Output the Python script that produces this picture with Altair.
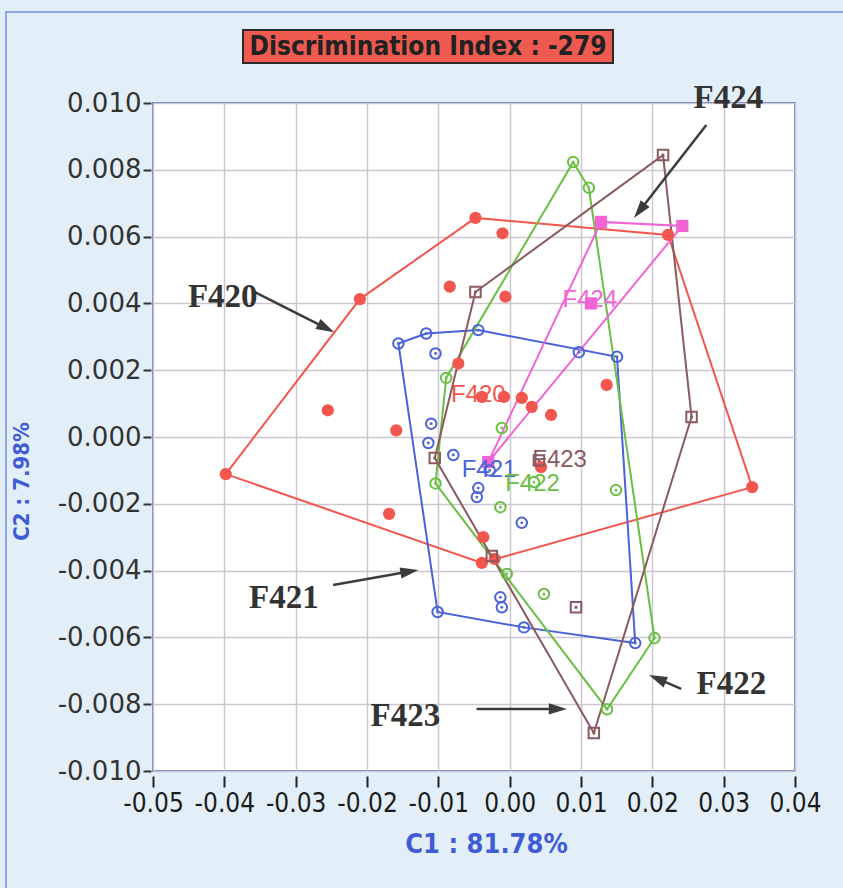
import math
import altair as alt
import pandas as pd

# ---------------- data ----------------
groups = ["F420", "F421", "F422", "F423", "F424"]
colors = ["#f2564e", "#4a63d8", "#6abf44", "#8a5a5e", "#f064d4"]

f420_x = [-0.0398, -0.0210, -0.0048, 0.0222, 0.0340, -0.0039, -0.0021, -0.0084, -0.0010, -0.0006,
          -0.0072, -0.0255, -0.0159, -0.0169, -0.0037, -0.0008, 0.0017, 0.0031, 0.0058, 0.0136,
          0.0044, -0.0039]
f420_y = [-0.00111, 0.00413, 0.00656, 0.00605, -0.00150, -0.00377, -0.00365, 0.00450, 0.00610, 0.00420,
          0.00220, 0.00080, 0.00020, -0.00230, -0.00300, 0.00120, 0.00117, 0.00090, 0.00066, 0.00156,
          -0.00090, 0.00120]

f421_x = [-0.0156, -0.0117, -0.0044, 0.0097, 0.01505, 0.0176, 0.0020, -0.0101, -0.0104, -0.0110,
          -0.0114, -0.0079, -0.0044, -0.0046, 0.0017, -0.0013, -0.0011, -0.0028]
f421_y = [0.00280, 0.00310, 0.00320, 0.00254, 0.00240, -0.00617, -0.00570, -0.00524, 0.00250, 0.00040,
          -0.00018, -0.00054, -0.00153, -0.00180, -0.00257, -0.00480, -0.00510, -0.00100]

f422_x = [0.0089, 0.0111, 0.0203, 0.01365, -0.0104, -0.0089, -0.0011, 0.0149, -0.0013, -0.0004,
          0.0048, 0.0034]
f422_y = [0.00823, 0.00746, -0.00602, -0.00815, -0.00139, 0.00177, 0.00027, -0.00159, -0.00210, -0.00410,
          -0.00470, -0.00135]

f423_x = [-0.0048, 0.0215, 0.0255, 0.0118, -0.0105, 0.0093, -0.0025, 0.0041]
f423_y = [0.00434, 0.00844, 0.00060, -0.00886, -0.00063, -0.00510, -0.00356, -0.00070]

f424_x = [-0.0030, 0.0128, 0.0242, 0.0114]
f424_y = [-0.00075, 0.00644, 0.00632, 0.00400]

# group labels (drawn at the group centres, as in the reference)
label_x = [-0.0044, -0.0029, 0.0032, 0.0070, 0.01125]
label_y = [0.00126, -0.00099, -0.00141, -0.00069, 0.00410]

# annotation call-outs
ann_text = ["F424", "F420", "F421", "F422", "F423"]
ann_tx = [0.03066, -0.04022, -0.03165, 0.03108, -0.01463]
ann_ty = [0.01015, 0.00419, -0.00482, -0.00740, -0.00835]
arr_x0 = [0.02757, -0.03572, -0.02475, 0.02405, -0.00464]
arr_y0 = [0.00934, 0.00434, -0.00443, -0.00754, -0.00814]
arr_x1 = [0.01744, -0.02461, -0.01280, 0.01955, 0.00802]
arr_y1 = [0.00656, 0.00314, -0.00398, -0.00713, -0.00814]

x_ticks = [-0.05, -0.04, -0.03, -0.02, -0.01, 0.00, 0.01, 0.02, 0.03, 0.04]
y_ticks = [-0.010, -0.008, -0.006, -0.004, -0.002, 0.000, 0.002, 0.004, 0.006, 0.008, 0.010]

title_text = "Discrimination Index : -279"
x_title = "C1 : 81.78%"
y_title = "C2 : 7.98%"

# ---------------- build tables ----------------
xs = [f420_x, f421_x, f422_x, f423_x, f424_x]
ys = [f420_y, f421_y, f422_y, f423_y, f424_y]

pts = []
for g, gx, gy in zip(groups, xs, ys):
    for a, b in zip(gx, gy):
        pts.append({"group": g, "x": a, "y": b})
pts = pd.DataFrame(pts)


def hull(points):
    p = sorted(set(points))
    if len(p) <= 2:
        return p

    def cross(o, a, b):
        return (a[0] - o[0]) * (b[1] - o[1]) - (a[1] - o[1]) * (b[0] - o[0])

    lower, upper = [], []
    for q in p:
        while len(lower) >= 2 and cross(lower[-2], lower[-1], q) <= 0:
            lower.pop()
        lower.append(q)
    for q in reversed(p):
        while len(upper) >= 2 and cross(upper[-2], upper[-1], q) <= 0:
            upper.pop()
        upper.append(q)
    return lower[:-1] + upper[:-1]


hrows = []
for g, gx, gy in zip(groups, xs, ys):
    h = hull(list(zip(gx, gy)))
    h = h + [h[0]]
    for i, (a, b) in enumerate(h):
        hrows.append({"group": g, "x": a, "y": b, "ord": i})
hulls = pd.DataFrame(hrows)

labels = pd.DataFrame({"group": groups, "x": label_x, "y": label_y, "t": groups})

W, H = 642, 668
SX = W / 0.09
SY = H / 0.02
arows = []
for t, tx, ty, x0, y0, x1, y1 in zip(ann_text, ann_tx, ann_ty, arr_x0, arr_y0, arr_x1, arr_y1):
    dxp = (x1 - x0) * SX
    dyp = (y1 - y0) * SY
    L = math.hypot(dxp, dyp)
    ang = math.degrees(math.atan2(dxp, dyp)) % 360
    back = 9.0
    cx = x1 - dxp / L * back / SX
    cy = y1 - dyp / L * back / SY
    arows.append({"t": t, "tx": tx, "ty": ty, "x": x0, "y": y0, "x2": cx, "y2": cy,
                  "hx": cx, "hy": cy, "ang": ang})
ann = pd.DataFrame(arows)

# ---------------- encodings ----------------
narrow = "DejaVu Sans Condensed, Liberation Sans Narrow, sans-serif"
minus_fix2 = "replace(format(datum.value, '.2f'), '\u2212', '-')"
minus_fix3 = "replace(format(datum.value, '.3f'), '\u2212', '-')"

x_axis = alt.Axis(values=x_ticks, labelExpr=minus_fix2, title=x_title,
                  titleFont=narrow, titleFontSize=27, titleFontWeight="bold", titleColor="#3f5bd6",
                  titleX=333, titleY=68, titleBaseline="middle", titleAnchor="middle",
                  labelFont=narrow, labelFontSize=26, labelColor="#1c1c1c", labelPadding=3,
                  labelFlush=False, labelOverlap=False,
                  tickSize=11, tickWidth=2, tickColor="#222222", offset=5, domain=False,
                  grid=True, gridColor="#cdc5cf", gridWidth=1.5)
y_axis = alt.Axis(values=y_ticks, labelExpr=minus_fix3, title=y_title,
                  titleFont=narrow, titleFontSize=22, titleFontWeight="bold", titleColor="#3f5bd6",
                  titleX=-130, titleY=378, titleBaseline="middle", titleAnchor="middle",
                  labelFont="DejaVu Sans", labelFontSize=26, labelColor="#333333", labelPadding=2,
                  labelFlush=False, labelOverlap=False,
                  tickSize=8, tickWidth=2, tickColor="#333333", offset=2, domain=False,
                  grid=True, gridColor="#cdc5cf", gridWidth=1.5)

xs_scale = alt.Scale(domain=[-0.05, 0.04], nice=False, zero=False)
ys_scale = alt.Scale(domain=[-0.010, 0.010], nice=False, zero=False)
X = alt.X("x:Q", scale=xs_scale, axis=x_axis)
Y = alt.Y("y:Q", scale=ys_scale, axis=y_axis)
C = alt.Color("group:N", scale=alt.Scale(domain=groups, range=colors), legend=None)
S = alt.Shape("group:N", scale=alt.Scale(domain=groups,
                                         range=["circle", "circle", "circle", "square", "square"]),
              legend=None)

lines = alt.Chart(hulls).mark_line(strokeWidth=2).encode(
    x=X, y=Y, color=C, detail="group:N", order="ord:Q")

filled = alt.Chart(pts).transform_filter(
    alt.FieldOneOfPredicate(field="group", oneOf=["F420", "F424"])
).mark_point(filled=True, opacity=1, size=150).encode(x=X, y=Y, color=C, shape=S)

open_pts = alt.Chart(pts).transform_filter(
    alt.FieldOneOfPredicate(field="group", oneOf=["F421", "F422", "F423"])
).mark_point(filled=False, opacity=1, size=110, strokeWidth=2).encode(x=X, y=Y, color=C, shape=S)

inner = alt.Chart(pts).transform_filter(
    alt.FieldOneOfPredicate(field="group", oneOf=["F421", "F422", "F423"])
).mark_point(filled=True, opacity=1, size=8).encode(x=X, y=Y, color=C, shape=S)

glabels = alt.Chart(labels).mark_text(font="Liberation Sans", fontSize=24, align="center",
                                      baseline="middle").encode(x=X, y=Y, color=C, text="t:N")

arrow_lines = alt.Chart(ann).mark_rule(color="#3c3c3c", strokeWidth=2.5).encode(
    x=X, y=Y, x2="x2:Q", y2="y2:Q")
arrow_heads = alt.Chart(ann).mark_point(shape="M0,-1L0.62,1L-0.62,1Z", filled=True, size=330,
                                        opacity=1, color="#3c3c3c").encode(
    x=alt.X("hx:Q", scale=xs_scale, axis=x_axis), y=alt.Y("hy:Q", scale=ys_scale, axis=y_axis),
    angle=alt.Angle("ang:Q", scale=None))
ann_txt = alt.Chart(ann).mark_text(font="Liberation Serif", fontWeight="bold", fontSize=33,
                                   color="#333333", align="center", baseline="middle").encode(
    x=alt.X("tx:Q", scale=xs_scale, axis=x_axis), y=alt.Y("ty:Q", scale=ys_scale, axis=y_axis),
    text="t:N")

tdf = pd.DataFrame({"t": [title_text]})
title_box = alt.Chart(tdf).mark_rect(color="#ee5a4f", stroke="#2a2a2a", strokeWidth=2).encode(
    x=alt.value(90), x2=alt.value(460), y=alt.value(-73), y2=alt.value(-40))
title_txt = alt.Chart(tdf).mark_text(font=narrow, fontWeight="bold", fontSize=26, color="#222222",
                                     align="center", baseline="middle").encode(
    x=alt.value(275), y=alt.value(-56), text="t:N")
frame = alt.Chart(tdf).mark_rect(fill="transparent", stroke="#93a6e4", strokeWidth=2).encode(
    x=alt.value(-147), x2=alt.value(700), y=alt.value(-91), y2=alt.value(800))

chart = alt.layer(
    lines, filled, open_pts, inner, glabels, arrow_lines, arrow_heads, ann_txt,
    frame, title_box, title_txt
).properties(
    width=W, height=H, background="#e3eff8",
    padding={"left": 153, "top": 103, "right": 48, "bottom": 117},
    autosize=alt.AutoSizeParams(type="none"),
).configure_view(fill="white", stroke="#6a7ed8", strokeWidth=2)

chart.save("out.html", embed_options={"renderer": "svg", "actions": False})
